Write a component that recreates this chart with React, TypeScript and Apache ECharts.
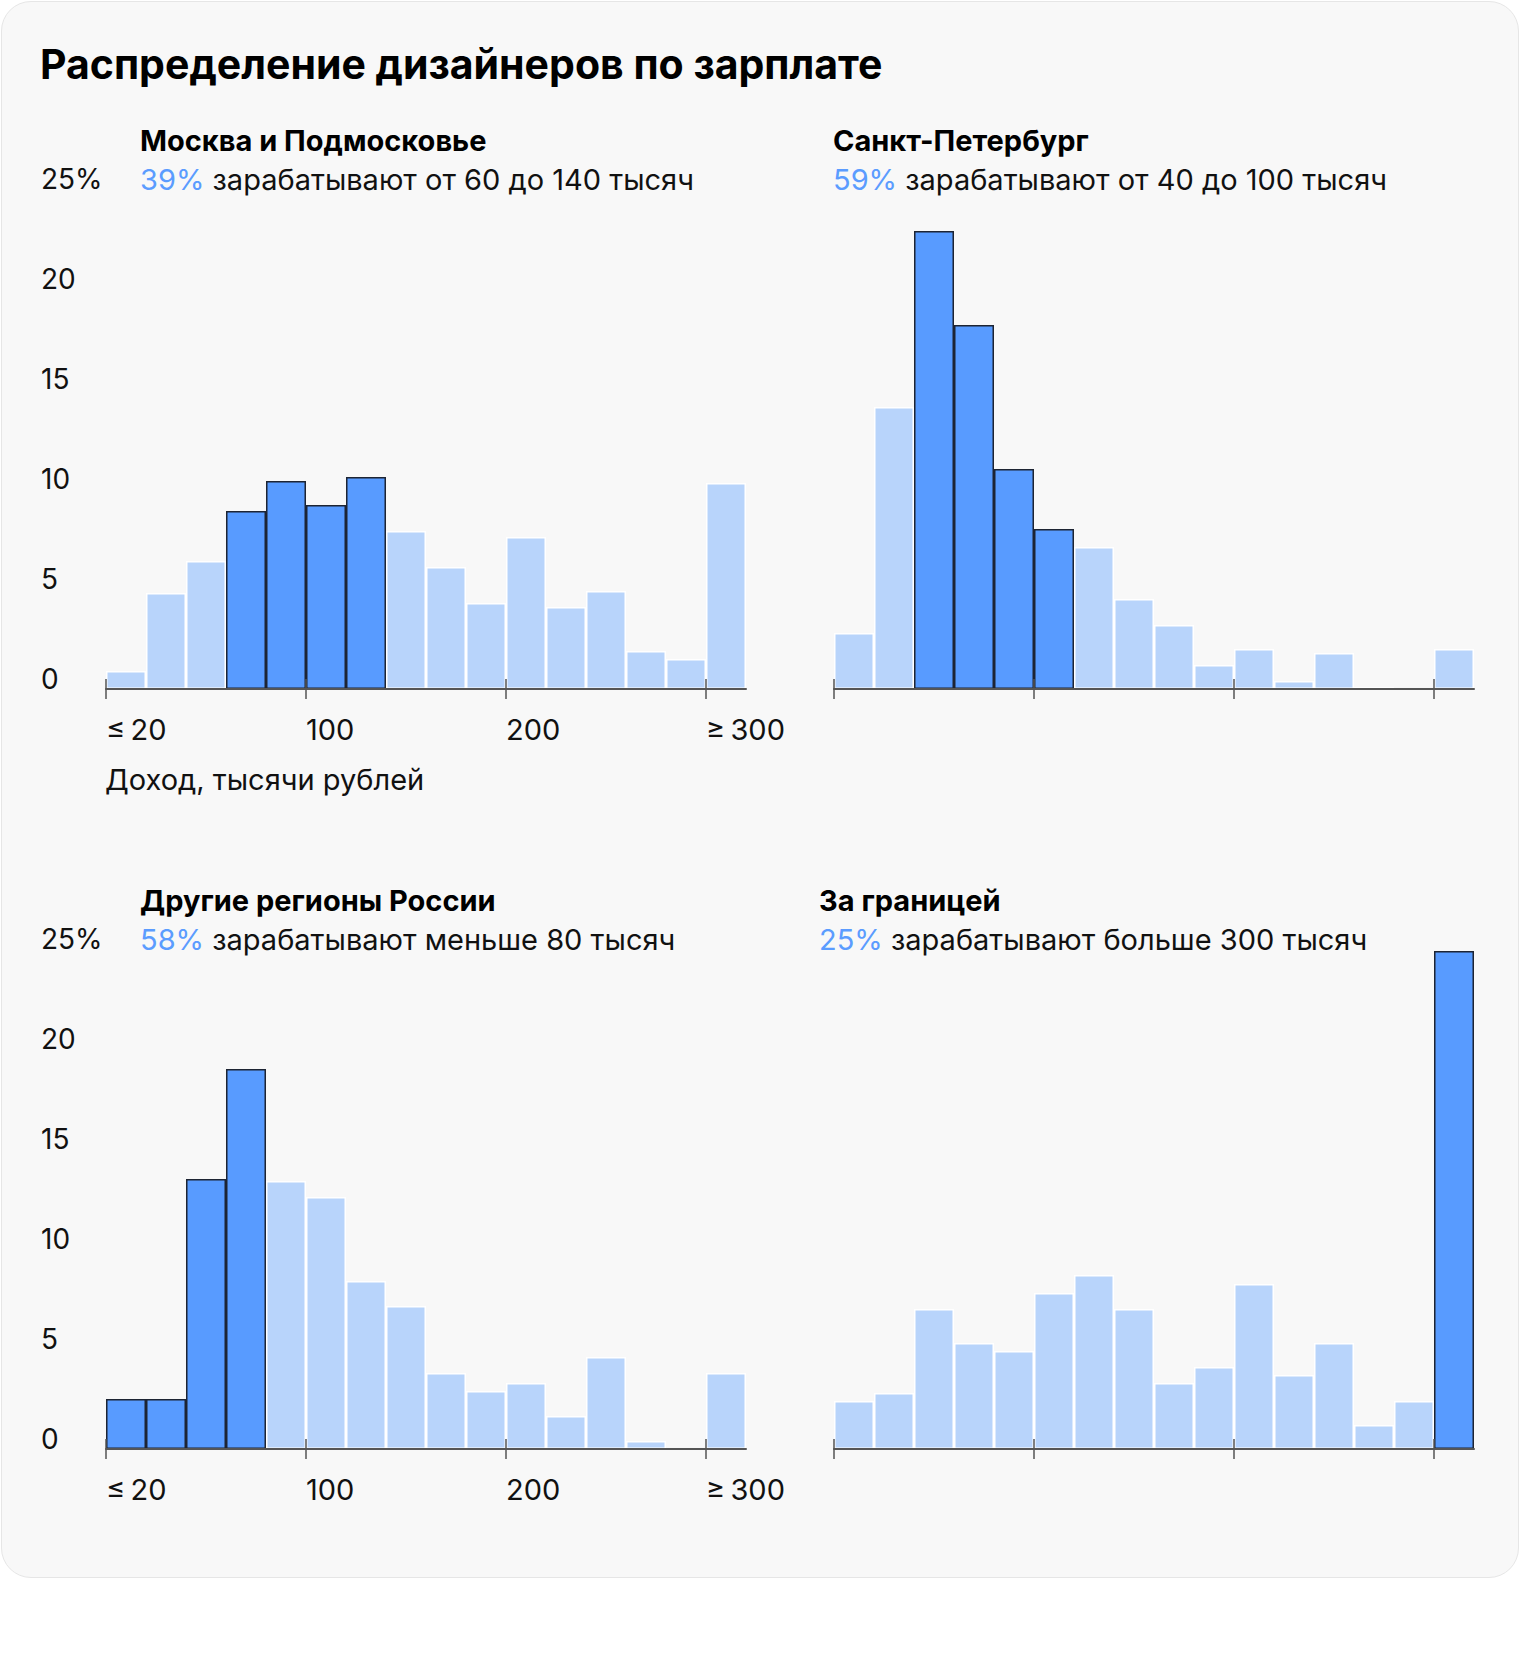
import React, { useEffect, useRef } from "react";
import * as echarts from "echarts";

// ---------- data ----------
const bins = [
  "0–20", "20–40", "40–60", "60–80", "80–100", "100–120", "120–140", "140–160",
  "160–180", "180–200", "200–220", "220–240", "240–260", "260–280", "280–300", "300+",
];

const moscow = [0.9, 4.8, 6.4, 8.9, 10.4, 9.2, 10.6, 7.9, 6.1, 4.3, 7.6, 4.1, 4.9, 1.9, 1.5, 10.3];
const spb = [2.8, 14.1, 22.9, 18.2, 11.0, 8.0, 7.1, 4.5, 3.2, 1.2, 2.0, 0.4, 1.8, 0.1, 0, 2.0];
const regions = [2.5, 2.5, 13.5, 19.0, 13.4, 12.6, 8.4, 7.15, 3.8, 2.9, 3.3, 1.65, 4.6, 0.4, 0, 3.8];
const abroad = [2.4, 2.8, 7.0, 5.3, 4.9, 7.8, 8.7, 7.0, 3.3, 4.1, 8.25, 3.7, 5.3, 1.2, 2.4, 24.9];

const moscowHl = [3, 4, 5, 6];
const spbHl = [2, 3, 4, 5];
const regionsHl = [0, 1, 2, 3];
const abroadHl = [15];

const panelNames = ["Москва и Подмосковье", "Санкт-Петербург", "Другие регионы России", "За границей"];
const panelShares = ["39%", "59%", "58%", "25%"];
const panelNotes = [
  " зарабатывают от 60 до 140 тысяч",
  " зарабатывают от 40 до 100 тысяч",
  " зарабатывают меньше 80 тысяч",
  " зарабатывают больше 300 тысяч",
];
const panelValues = [moscow, spb, regions, abroad];
const panelHighlights = [moscowHl, spbHl, regionsHl, abroadHl];

const xTickPositions = [0, 5, 10, 15];
const xTickLabels = ["≤\u200920", "100", "200", "≥\u2009300"];
const yTickLabels = ["0", "5", "10", "15", "20", "25%"];

const mainTitle = "Распределение дизайнеров по зарплате";
const xAxisTitle = "Доход, тысячи рублей";

// ---------- layout / style ----------
const FONT = "Inter, 'Noto Sans', sans-serif";
const TEXT = "#111111";
const HL_TEXT = "#5b9cff";
const DARK = "#589bff";
const DARK_BORDER = "#1d2433";
const LIGHT = "#b8d4fb";
const AXIS = "#555555";

const layouts = [
  { x: 106, y: 189, titleX: 140, titleY: 0, labels: true },
  { x: 834, y: 189, titleX: 833, titleY: 0, labels: false },
  { x: 106, y: 949, titleX: 140, titleY: 760, labels: true },
  { x: 834, y: 949, titleX: 819, titleY: 760, labels: false },
];
const GRID_W = 640;
const GRID_H = 500;

function buildOption() {
  const grid: any[] = [];
  const xAxis: any[] = [];
  const yAxis: any[] = [];
  const series: any[] = [];
  const title: any[] = [
    {
      text: mainTitle,
      left: 40,
      top: 43.5,
      padding: 0,
      textStyle: { fontFamily: FONT, fontSize: 41, fontWeight: 700, color: "#000", lineHeight: 41 },
    },
  ];

  layouts.forEach((l, i) => {
    grid.push({ left: l.x, top: l.y, width: GRID_W, height: GRID_H, containLabel: false });

    // hidden category axis for the bars
    xAxis.push({ type: "category", gridIndex: i, data: bins, show: false });
    // visible axis line, outer ticks and labels
    xAxis.push({
      type: "value",
      gridIndex: i,
      min: 0,
      max: bins.length,
      position: "bottom",
      z: 5,
      splitLine: { show: false },
      axisLine: { show: true, onZero: false, lineStyle: { color: AXIS, width: 2 } },
      axisTick: {
        show: true,
        inside: false,
        length: 10,
        customValues: xTickPositions,
        lineStyle: { color: AXIS, width: 1.5 },
      },
      axisLabel: {
        show: l.labels,
        customValues: xTickPositions,
        formatter: (v: number) => xTickLabels[xTickPositions.indexOf(Math.round(v))] ?? "",
        align: "left",
        margin: 26,
        fontFamily: FONT,
        fontSize: 29,
        lineHeight: 29,
        color: TEXT,
      },
    });
    // inner ticks
    xAxis.push({
      type: "value",
      gridIndex: i,
      min: 0,
      max: bins.length,
      position: "bottom",
      z: 5,
      splitLine: { show: false },
      axisLine: { show: false, onZero: false },
      axisTick: {
        show: true,
        inside: true,
        length: 10,
        customValues: xTickPositions,
        lineStyle: { color: AXIS, width: 1.5 },
      },
      axisLabel: { show: false },
    });

    yAxis.push({
      type: "value",
      gridIndex: i,
      min: 0,
      max: 25,
      interval: 5,
      splitLine: { show: false },
      axisLine: { show: false },
      axisTick: { show: false },
      axisLabel: {
        show: l.labels,
        align: "left",
        margin: 65,
        verticalAlign: "bottom",
        lineHeight: 20,
        fontFamily: FONT,
        fontSize: 28,
        color: TEXT,
        formatter: (v: number) => yTickLabels[Math.round(v / 5)] ?? "",
      },
    });

    const values = panelValues[i];
    const hl = panelHighlights[i];
    series.push({
      type: "bar",
      xAxisIndex: i * 3,
      yAxisIndex: i,
      data: values,
      barCategoryGap: "0%",
      barGap: "-100%",
      itemStyle: { color: LIGHT, borderColor: "#ffffff", borderWidth: 1.5 },
      z: 2,
    });
    series.push({
      type: "bar",
      xAxisIndex: i * 3,
      yAxisIndex: i,
      data: values.map((v, k) => (hl.includes(k) ? v : "-")),
      barCategoryGap: "0%",
      barGap: "-100%",
      itemStyle: { color: DARK, borderColor: DARK_BORDER, borderWidth: 1.5 },
      z: 3,
    });

    title.push({
      text: panelNames[i],
      left: l.titleX,
      top: 125.5 + l.titleY,
      padding: 0,
      textStyle: { fontFamily: FONT, fontSize: 29, fontWeight: 700, color: "#000", lineHeight: 29 },
    });
    title.push({
      text: `{hl|${panelShares[i]}}${panelNotes[i]}`,
      left: l.titleX,
      top: 164.5 + l.titleY,
      padding: 0,
      textStyle: {
        fontFamily: FONT,
        fontSize: 29,
        fontWeight: 400,
        color: TEXT,
        lineHeight: 29,
        rich: { hl: { color: HL_TEXT, fontFamily: FONT, fontSize: 29, lineHeight: 29 } },
      },
    });
  });

  title.push({
    text: xAxisTitle,
    left: 105,
    top: 764.5,
    padding: 0,
    textStyle: { fontFamily: FONT, fontSize: 29, fontWeight: 400, color: TEXT, lineHeight: 29 },
  });

  return { animation: false, title, grid, xAxis, yAxis, series };
}

export default function App() {
  const ref = useRef<HTMLDivElement>(null);
  useEffect(() => {
    document.body.style.margin = "0";
    if (!ref.current) return;
    const chart = echarts.init(ref.current, null, { renderer: "svg" });
    chart.setOption(buildOption() as any);
    return () => chart.dispose();
  }, []);

  return (
    <div style={{ position: "relative", width: 1520, height: 1672, background: "#ffffff" }}>
      <div
        style={{
          position: "absolute",
          left: 1,
          top: 1,
          width: 1516,
          height: 1575,
          background: "#f8f8f8",
          border: "1px solid #e6e6e6",
          borderRadius: 30,
        }}
      />
      <div ref={ref} style={{ position: "absolute", left: 0, top: 0, width: 1520, height: 1672 }} />
    </div>
  );
}
